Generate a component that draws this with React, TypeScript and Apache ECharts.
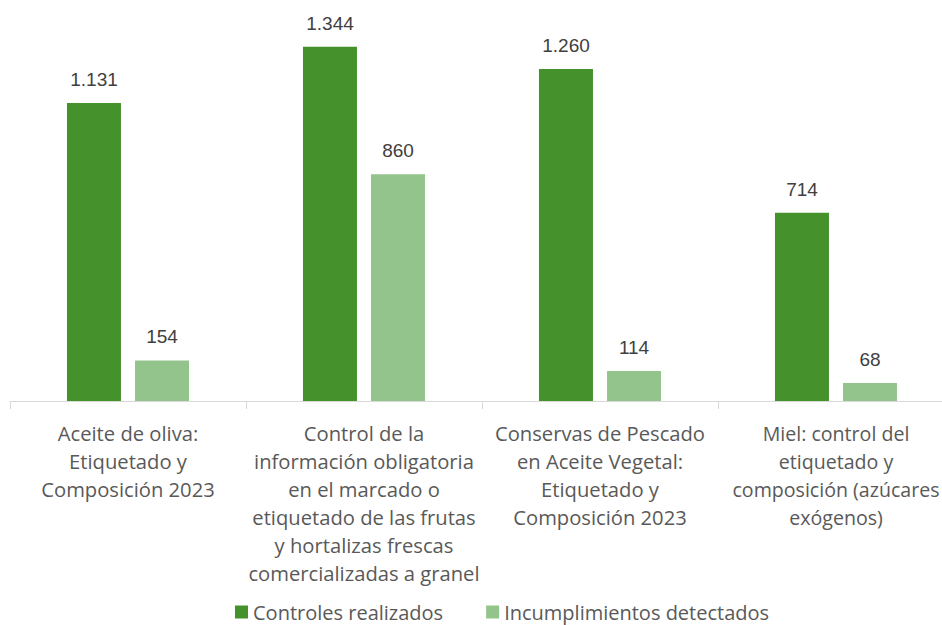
import React, { useEffect, useRef } from "react";
import * as echarts from "echarts";

const categories = [
  "Aceite de oliva:\nEtiquetado y\nComposición 2023",
  "Control de la\ninformación obligatoria\nen el marcado o\netiquetado de las frutas\ny hortalizas frescas\ncomercializadas a granel",
  "Conservas de Pescado\nen Aceite Vegetal:\nEtiquetado y\nComposición 2023",
  "Miel: control del\netiquetado y\ncomposición (azúcares\nexógenos)",
];
const controles = [1131, 1344, 1260, 714];
const incumplimientos = [154, 860, 114, 68];
const seriesNames = ["Controles realizados", "Incumplimientos detectados"];

const fmt = (v: number) => String(v).replace(/\B(?=(\d{3})+(?!\d))/g, ".");

export default function App() {
  const ref = useRef<HTMLDivElement>(null);
  useEffect(() => {
    const chart = echarts.init(ref.current!, null, { renderer: "svg" });
    const font = "'Open Sans', 'Noto Sans', sans-serif";
    const label = {
      show: true,
      position: "top",
      distance: 14,
      fontSize: 19,
      fontFamily: "'Liberation Sans', Arial, sans-serif",
      color: "#404040",
      formatter: (p: any) => fmt(p.value),
    };
    chart.setOption({
      animation: false,
      textStyle: { fontFamily: font },
      grid: { left: 10, right: 0, top: 32, bottom: 224, containLabel: false },
      legend: {
        left: 235,
        top: 602,
        padding: 0,
        itemWidth: 13,
        itemHeight: 13,
        itemGap: 43,
        icon: "rect",
        textStyle: { fontSize: 20, color: "#595959", fontFamily: font },
        data: seriesNames,
      },
      xAxis: {
        type: "category",
        data: categories.map((c, i) =>
          i === categories.length - 1 ? { value: c, textStyle: { fontSize: 19.6 } } : c
        ),
        axisLine: { lineStyle: { color: "#d9d9d9", width: 1 } },
        axisTick: { show: true, length: 8, lineStyle: { color: "#d9d9d9" } },
        axisLabel: {
          interval: 0,
          fontSize: 20.2,
          lineHeight: 28,
          color: "#595959",
          fontFamily: font,
          margin: 18,
        },
      },
      yAxis: {
        type: "value",
        min: 0,
        max: 1400,
        show: false,
        splitLine: { show: false },
      },
      series: [
        {
          name: seriesNames[0],
          type: "bar",
          data: controles,
          barWidth: 54,
          barGap: "26%",
          itemStyle: { color: "#45922D" },
          label,
        },
        {
          name: seriesNames[1],
          type: "bar",
          data: incumplimientos,
          barWidth: 54,
          itemStyle: { color: "#93C48B" },
          label,
        },
      ],
    });
    return () => chart.dispose();
  }, []);
  return (
    <div
      style={{
        position: "fixed",
        left: 0,
        top: 0,
        width: 942,
        height: 625,
        overflow: "hidden",
        background: "#fff",
      }}
    >
      <div ref={ref} style={{ width: 954, height: 625 }} />
    </div>
  );
}
